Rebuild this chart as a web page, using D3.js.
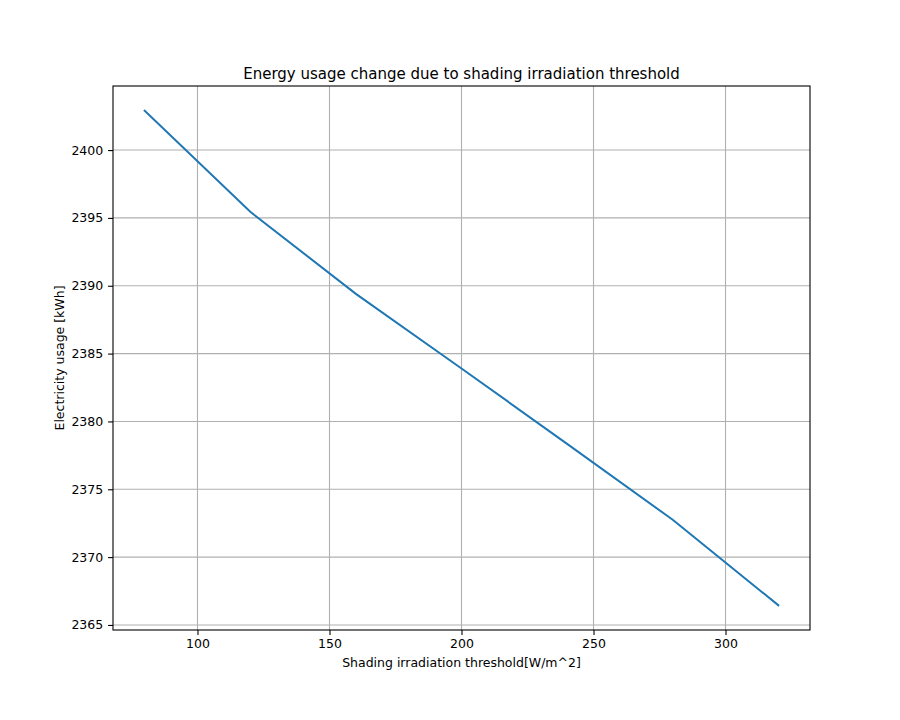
<!DOCTYPE html>
<html>
<head>
<meta charset="utf-8">
<script src="https://cdn.jsdelivr.net/npm/d3@7"></script>
<style>
  body { margin: 0; background: #fff; }
  text { font-family: "DejaVu Sans", sans-serif; fill: #000; }
</style>
</head>
<body>
<div id="chart-area"></div>
<script>
// shading threshold [W/m^2] and the electricity usage it gives [kWh]
var thresholds = [80, 120, 160, 200, 240, 280, 320];
var usage = [2402.9, 2395.45, 2389.4, 2383.9, 2378.35, 2372.75, 2366.45];

var xTicks = [100, 150, 200, 250, 300];
var yTicks = [2365, 2370, 2375, 2380, 2385, 2390, 2395, 2400];

var titleText = "Energy usage change due to shading irradiation threshold";
var xLabel = "Shading irradiation threshold[W/m^2]";
var yLabel = "Electricity usage [kWh]";

var W = 900, H = 720;
var margin = { top: 86, right: 90, bottom: 90, left: 113 };
var width = W - margin.left - margin.right;
var height = H - margin.top - margin.bottom;

var data = thresholds.map(function(t, i){
	return { x: t, y: usage[i] };
});

var svg = d3.select("#chart-area")
	.append("svg")
		.attr("width", W)
		.attr("height", H);

var g = svg.append("g")
	.attr("transform", "translate(" + margin.left + "," + margin.top + ")");

// matplotlib style 5% padding around the data
var xExt = d3.extent(thresholds), yExt = d3.extent(usage);
var xPad = (xExt[1] - xExt[0]) * 0.05, yPad = (yExt[1] - yExt[0]) * 0.05;

var x = d3.scaleLinear()
	.domain([xExt[0] - xPad, xExt[1] + xPad])
	.range([0, width]);

var y = d3.scaleLinear()
	.domain([yExt[0] - yPad, yExt[1] + yPad])
	.range([height, 0]);

// grid
g.append("g")
	.selectAll("line.vgrid")
	.data(xTicks)
	.enter().append("line")
		.attr("x1", function(d){ return x(d); })
		.attr("x2", function(d){ return x(d); })
		.attr("y1", 0)
		.attr("y2", height)
		.attr("stroke", "#b0b0b0")
		.attr("stroke-width", 1.1);

g.append("g")
	.selectAll("line.hgrid")
	.data(yTicks)
	.enter().append("line")
		.attr("y1", function(d){ return y(d); })
		.attr("y2", function(d){ return y(d); })
		.attr("x1", 0)
		.attr("x2", width)
		.attr("stroke", "#b0b0b0")
		.attr("stroke-width", 1.1);

// the line
var line = d3.line()
	.x(function(d){ return x(d.x); })
	.y(function(d){ return y(d.y); });

g.append("path")
	.datum(data)
	.attr("fill", "none")
	.attr("stroke", "#1f77b4")
	.attr("stroke-width", 2)
	.attr("stroke-linecap", "square")
	.attr("d", line);

// axes
var bottomAxis = d3.axisBottom(x)
	.tickValues(xTicks)
	.tickSize(4.9)
	.tickPadding(4.5)
	.tickFormat(d3.format("d"));
var xg = g.append("g")
	.attr("transform", "translate(0," + height + ")")
	.call(bottomAxis);

var leftAxis = d3.axisLeft(y)
	.tickValues(yTicks)
	.tickSize(4.9)
	.tickPadding(4.9)
	.tickFormat(d3.format("d"));
var yg = g.append("g")
	.call(leftAxis);

[xg, yg].forEach(function(a){
	a.select(".domain").remove();
	a.selectAll(".tick line").attr("stroke", "#000").attr("stroke-width", 1.1);
	a.selectAll(".tick text")
		.attr("font-size", "12.5px")
		.style("font-family", "DejaVu Sans");
});

// frame
g.append("rect")
	.attr("x", 0)
	.attr("y", 0)
	.attr("width", width)
	.attr("height", height)
	.attr("fill", "none")
	.attr("stroke", "#000")
	.attr("stroke-width", 1.1);

// labels
svg.append("text")
	.attr("x", margin.left + width / 2)
	.attr("y", margin.top - 7)
	.attr("text-anchor", "middle")
	.attr("font-size", "15px")
	.text(titleText);

svg.append("text")
	.attr("x", margin.left + width / 2)
	.attr("y", margin.top + height + 37)
	.attr("text-anchor", "middle")
	.attr("font-size", "12.5px")
	.text(xLabel);

svg.append("text")
	.attr("transform", "translate(64," + (margin.top + height / 2) + ") rotate(-90)")
	.attr("text-anchor", "middle")
	.attr("font-size", "12.5px")
	.text(yLabel);
</script>
</body>
</html>
